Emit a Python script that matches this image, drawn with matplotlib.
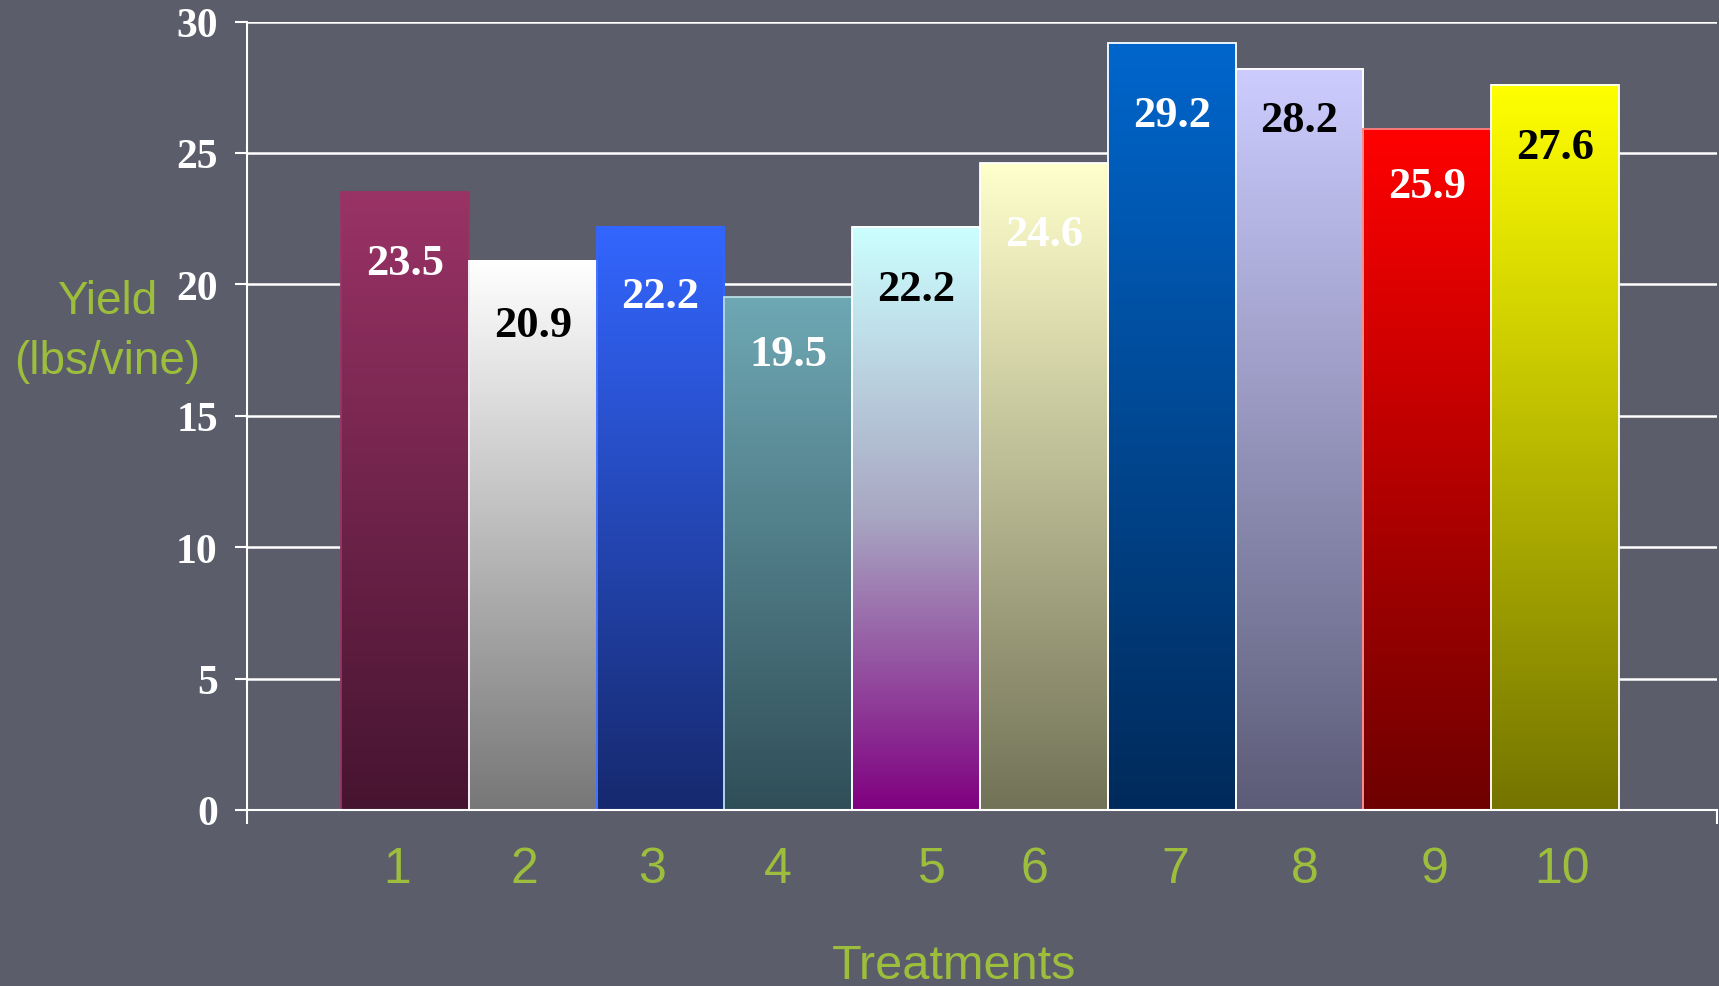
import numpy as np
import matplotlib
matplotlib.use("Agg")
import matplotlib.pyplot as plt
from matplotlib.colors import to_rgb
from matplotlib.transforms import ScaledTranslation

# yield per treatment
treatments = ["1", "2", "3", "4", "5", "6", "7", "8", "9", "10"]
yields = [23.5, 20.9, 22.2, 19.5, 22.2, 24.6, 29.2, 28.2, 25.9, 27.6]

# each bar fades top -> middle -> bottom
top_colors = ["#9A3366", "#FFFFFF", "#3366FF", "#6EA8B4", "#CCFFFF",
              "#FFFFCC", "#0066CC", "#CCCCFF", "#FF0000", "#FFFF00"]
mid_colors = [None, None, None, None, "#A8A6C2",
              None, None, None, None, None]
bottom_colors = ["#461430", "#777777", "#16296E", "#304E58", "#800080",
                 "#727258", "#002A5A", "#5C5C78", "#6E0000", "#747400"]
edge_colors = ["#9A3366", "white", "#3366FF", "#B8DDE3", "white",
               "white", "white", "white", "#FF8080", "white"]
label_colors = ["white", "black", "white", "white", "black",
                "white", "white", "black", "white", "black"]
# how far each value sits below its bar top (points)
label_drop = [51, 46, 50, 41, 45, 51, 52, 37, 41, 45]
# small nudges of the category numbers (pixels)
tick_shift = [-8, -8, -8, -10, 16, -9, 4, 5, 7, 7]

bg = "#5B5D6B"
green = "#9DBE3C"
W, H = 1719, 987

fig = plt.figure(figsize=(W / 100, H / 100), dpi=100, facecolor=bg)
ax = fig.add_axes([247 / W, 176 / H, 1470 / W, 788.5 / H])
ax.set_facecolor(bg)

x = np.arange(1, len(yields) + 1)
bars = ax.bar(x, yields, width=1.0, color="none", edgecolor=edge_colors,
              linewidth=1.3, zorder=3)

t = np.linspace(0, 1, 256)
for bar, c_top, c_mid, c_bot in zip(bars, top_colors, mid_colors, bottom_colors):
    x0, w, h = bar.get_x(), bar.get_width(), bar.get_height()
    stops = [to_rgb(c_top), to_rgb(c_bot)]
    pos = [0.0, 1.0]
    if c_mid is not None:
        stops.insert(1, to_rgb(c_mid))
        pos.insert(1, 0.5)
    stops = np.array(stops)
    grad = np.stack([np.interp(t, pos, stops[:, k]) for k in range(3)], axis=1)
    ax.imshow(grad[:, None, :], extent=(x0, x0 + w, 0, h), aspect="auto",
              origin="upper", interpolation="bilinear", zorder=2)

for xi, v, c, d in zip(x, yields, label_colors, label_drop):
    ax.annotate(f"{v}", (xi, v), xytext=(0, -d), textcoords="offset points",
                ha="center", va="center", color=c, fontsize=32,
                fontweight="bold", family="Liberation Serif", zorder=4)

xlo, xhi = -0.2355, 11.267
ax.set_xlim(xlo, xhi)
ax.set_ylim(0, 30)

ax.set_xticks(x)
ax.set_xticklabels(treatments, color=green, fontsize=36, family="Liberation Sans")
ax.tick_params(axis="x", which="major", length=0, pad=26)
for lab, dx in zip(ax.get_xticklabels(), tick_shift):
    lab.set_transform(lab.get_transform() + ScaledTranslation(dx / 100, 0, fig.dpi_scale_trans))
ax.set_xticks([xlo, xhi], minor=True)
ax.tick_params(axis="x", which="minor", length=10, width=1.5, color="white",
               direction="out")

ax.set_yticks(range(0, 31, 5))
ax.tick_params(axis="y", length=9, width=1.5, color="white", direction="out",
               pad=12, labelcolor="white", labelsize=30)
for lab in ax.get_yticklabels():
    lab.set_family("Liberation Serif")
    lab.set_fontweight("bold")

ax.grid(axis="y", color="white", linewidth=1.8, zorder=1)
ax.set_axisbelow(True)
for side in ["top", "right"]:
    ax.spines[side].set_visible(False)
for side in ["left", "bottom"]:
    ax.spines[side].set_color("white")
    ax.spines[side].set_linewidth(1.5)
    ax.spines[side].set_zorder(5)

# axis titles
fig.text(107 / W, 1 - 302 / H, "Yield", ha="center", va="center",
         color=green, fontsize=33, family="Liberation Sans")
fig.text(107 / W, 1 - 362 / H, "(lbs/vine)", ha="center", va="center",
         color=green, fontsize=33, family="Liberation Sans")
fig.text(954 / W, 8 / H, "Treatments", ha="center", va="baseline",
         color=green, fontsize=35, family="Liberation Sans")

fig.savefig("out.png", dpi=100, facecolor=bg)
